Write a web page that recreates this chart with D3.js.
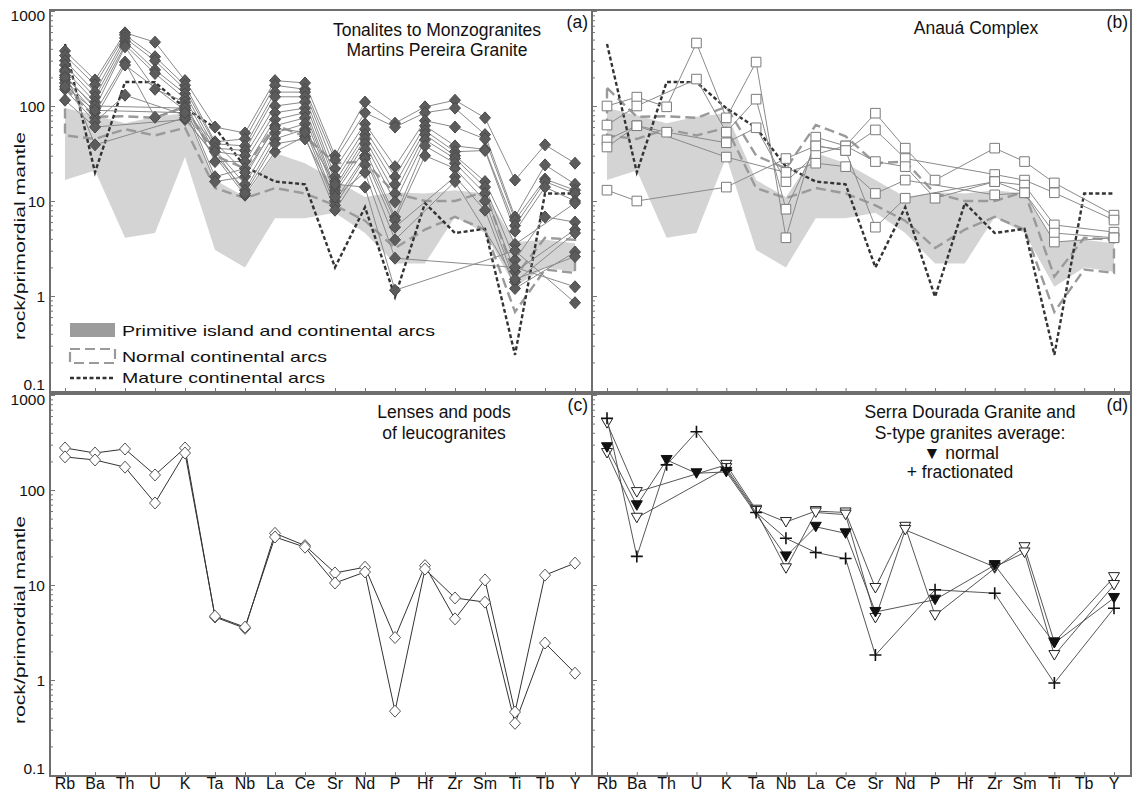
<!DOCTYPE html>
<html>
<head>
<meta charset="utf-8">
<script src="https://cdn.jsdelivr.net/npm/d3@7"></script>
<style>
  body { margin: 0; background: #fff; }
  text { font-family: "Liberation Sans", Arial, sans-serif; fill: #111; }
</style>
</head>
<body>
<svg id="chart" width="1134" height="794"></svg>
<script>
'use strict';

const elements = ["Rb", "Ba", "Th", "U", "K", "Ta", "Nb", "La", "Ce", "Sr", "Nd", "P", "Hf", "Zr", "Sm", "Ti", "Tb", "Y"];
const yTicks = [0.1, 1, 10, 100, 1000];

// reference fields (same in a and b)
const primitiveUpper = [95, 80, 66, 77, 84, 16.6, 11, 32, 25, 16.6, 11, 12.4, 12, 13, 12, 3.7, 3.9, 3.6];
const primitiveLower = [16.6, 21, 4.1, 4.6, 29, 3.05, 2.0, 6.6, 6.6, 7.5, 4.6, 2.2, 2.2, 6.8, 4.6, 1.25, 2.0, 1.8];
const normalUpper = [155, 77, 78, 75, 98, 30, 22, 63, 48, 25, 26, 12, 10, 10, 12.5, 1.6, 4.1, 3.9];
const normalLower = [49, 45, 57, 49, 59, 13.7, 10.7, 13.7, 12, 9, 6.2, 3.2, 5, 6.8, 5, 0.68, 1.9, 1.75];
const matureArcs = [450, 20, 179, 178, 95, 59, 23, 16, 15, 2.0, 8.6, 0.98, 9.5, 4.6, 5.1, 0.24, 12, 12];

// (a) Tonalites to Monzogranites, Martins Pereira Granite
const tonalites = [
  [380, 188, 590, 470, 185, 60, 52, 185, 175, 30, 110, 66, 98, 115, 75, 16.6, 39, 25],
  [340, 167, 560, 330, 165, 42, 45, 165, 150, 27, 85, 60, 85, 95, 50, 6.8, 24, 15],
  [300, 140, 520, 300, 150, 40, 38, 140, 140, 22, 65, 23, 70, 60, 45, 6.3, 17, 13],
  [270, 124, 480, 240, 135, 36, 34, 125, 125, 18, 57, 18, 62, 38, 35, 5.5, 16, 12],
  [240, 110, 440, 220, 120, 33, 30, 100, 110, 16, 50, 15, 55, 33, 34, 4.8, 14, 10],
  [210, 95, 420, 150, 110, 26, 26, 85, 95, 14, 45, 12, 50, 30, 16, 3.5, null, 9.5],
  [190, 85, 290, 76, 100, 18, 22, 72, 85, 13, 40, 9.8, 44, 28, 14, 2.4, 6.8, 6],
  [175, 75, 270, null, 90, 16, 18, 62, 75, 12, 35, 6.8, 38, 25, 12, 1.8, null, 5],
  [150, 68, 130, null, 80, null, 15, 52, 65, 10, 30, 6.3, 30, 22, 10, 1.4, null, 4.6],
  [115, 60, null, null, 72, null, 13, 45, 57, 9, 28, 5.3, null, 18, 8, 1.2, null, 2.9],
  [230, 39, null, null, 75, null, 11.5, 33, 48, 8, 24, 3.9, null, 16, null, 1.5, null, 2.6],
  [200, 100, null, null, 95, null, 12, 40, 45, 11, 20, 2.5, null, null, null, 2.0, null, 1.25],
  [160, 90, null, null, 85, null, 20, 58, 53, 15, 14, 1.15, null, null, null, 3.0, null, 0.85]
];

// (b) Anaua Complex
const anaua = [
  [100, 124, 98, 460, 75, 290, 4.1, 47, 38, 84, 36, 16.6, null, 36, 26, 15.5, null, 7.1],
  [63, 100, null, 192, 53, 118, 8.2, 38, 34, 56, 28, null, null, 19, 16.6, 12.2, null, 6.3],
  [44, 62, 53, null, 41, 59, 16, 31, 38, 26, 23, 10.7, null, 16, 14.7, 5.6, null, 4.7],
  [37, 62, null, null, 29, null, 20, 25, 23, 12, 16.6, null, null, 11.6, 12.2, 4.6, null, 4.1],
  [13, 10, null, null, 14, null, 28, 38, 34, 5.3, 10.7, null, null, 16, 12.2, 3.7, null, 4.1]
];

// (c) Lenses and pods of leucogranites
const leucogranites = [
  [277, 245, 270, 144, 277, 4.6, 3.5, 35, 26, 13.4, 15.4, 2.8, 16, 4.4, 11.3, 0.46, 12.7, 17],
  [223, 207, 174, 73, 245, 4.7, 3.6, 32, 25, 10.5, 13.7, 0.47, 14.7, 7.3, 6.6, 0.35, 2.45, 1.18]
];

// (d) Serra Dourada Granite and S-type averages
const serraDourada = [
  [505, 95, null, null, 184, 62, 46, 60, 58, 9.3, 41, 4.8, null, 15, 25, 2.5, null, 12.1],
  [245, 51, null, null, 170, 60, 15, 58, 55, 4.5, 38, null, null, 15.5, 22, 1.83, null, 10]
];
const sTypeNormal = [282, 69, 207, 150, 155, null, 20, 41, 35, 5.2, null, 7, null, 16.2, null, 2.45, null, 7.3];
const sTypeFractionated = [570, 20, 184, 410, 162, 58, 31, 22, 19, 1.83, null, 8.9, null, 8.2, null, 0.93, null, 5.7];

const svg = d3.select('#chart');

const panels = [
  { id: 'a', x0: 50, x1: 592, top: 10, bottom: 392 },
  { id: 'b', x0: 592, x1: 1131, top: 10, bottom: 392 },
  { id: 'c', x0: 50, x1: 592, top: 394, bottom: 776 },
  { id: 'd', x0: 592, x1: 1131, top: 394, bottom: 776 }
];

panels.forEach(p => {
  p.x = d3.scalePoint().domain(elements).range([p.x0 + 15, p.x1 - 17]);
  p.y = d3.scaleLog().domain([0.1, 1000]).range([p.bottom - 1, p.top + 1]);
  p.g = svg.append('g');
});

const toPoints = vals => vals.map((v, i) => ({ el: elements[i], v: v })).filter(d => d.v != null);

const shapes = {
  diamond: 'M0,-6L5.5,0L0,6L-5.5,0Z',
  square: 'M-4.8,-4.8H4.8V4.8H-4.8Z',
  tri: 'M-5.5,-4.5L5.5,-4.5L0,5Z',
  plus: 'M-6,0H6M0,-6V6'
};

// grey field + dashed field + dotted line
const drawFields = (p) => {
  const area = d3.area()
    .x((d, i) => p.x(elements[i]))
    .y0((d, i) => p.y(primitiveLower[i]))
    .y1(d => p.y(d));
  p.g.append('path')
    .attr('d', area(primitiveUpper))
    .attr('fill', '#d4d4d4');

  const line = d3.line().x(d => p.x(d.el)).y(d => p.y(d.v));
  const ring = toPoints(normalUpper).concat(toPoints(normalLower).reverse());
  p.g.append('path')
    .attr('d', line(ring) + 'Z')
    .attr('fill', 'none')
    .attr('stroke', '#9a9a9a')
    .attr('stroke-width', 2.4)
    .attr('stroke-dasharray', '10,5');

  p.g.append('path')
    .attr('d', line(toPoints(matureArcs)))
    .attr('fill', 'none')
    .attr('stroke', '#333')
    .attr('stroke-width', 2.4)
    .attr('stroke-dasharray', '4,2.5');
}

const drawSeries = (p, list, o) => {
  const line = d3.line().x(d => p.x(d.el)).y(d => p.y(d.v));
  list.forEach(vals => {
    p.g.append('path')
      .attr('d', line(toPoints(vals)))
      .attr('fill', 'none')
      .attr('stroke', o.line)
      .attr('stroke-width', o.lw || 1);
  });
  list.forEach(vals => {
    p.g.selectAll(null)
      .data(toPoints(vals))
      .enter()
      .append('path')
      .attr('d', shapes[o.shape])
      .attr('transform', d => `translate(${p.x(d.el)},${p.y(d.v)})`)
      .attr('fill', o.fill)
      .attr('stroke', o.stroke)
      .attr('stroke-width', o.sw || 1);
  });
}

drawFields(panels[0]);
drawFields(panels[1]);
drawSeries(panels[0], tonalites, { shape: 'diamond', line: '#8a8a8a', fill: '#5c5c5c', stroke: '#4a4a4a' });
drawSeries(panels[1], anaua, { shape: 'square', line: '#8a8a8a', fill: '#fff', stroke: '#7a7a7a' });
drawSeries(panels[2], leucogranites, { shape: 'diamond', line: '#333', fill: '#fff', stroke: '#555' });
drawSeries(panels[3], serraDourada, { shape: 'tri', line: '#444', lw: 0.9, fill: '#fff', stroke: '#222' });
drawSeries(panels[3], [sTypeNormal], { shape: 'tri', line: '#444', lw: 0.9, fill: '#111', stroke: '#111' });
drawSeries(panels[3], [sTypeFractionated], { shape: 'plus', line: '#444', lw: 0.9, fill: 'none', stroke: '#111', sw: 1.6 });

// axes, ticks and frames
const minorTicks = [];
[0.1, 1, 10, 100].forEach(dec => {
  for (let k = 2; k <= 9; k++) minorTicks.push(k * dec);
});

panels.forEach(p => {
  p.g.append('g')
    .attr('transform', `translate(${p.x0},0)`)
    .call(d3.axisRight(p.y).tickValues(minorTicks).tickSize(3).tickFormat(''))
    .call(g => g.select('.domain').remove())
    .call(g => g.selectAll('line').attr('stroke', '#777'));
  p.g.append('g')
    .attr('transform', `translate(${p.x0},0)`)
    .call(d3.axisRight(p.y).tickValues(yTicks).tickSize(5).tickFormat(''))
    .call(g => g.select('.domain').remove())
    .call(g => g.selectAll('line').attr('stroke', '#777'));
  p.g.append('g')
    .attr('transform', `translate(0,${p.bottom})`)
    .call(d3.axisTop(p.x).tickSize(4).tickFormat(''))
    .call(g => g.select('.domain').remove())
    .call(g => g.selectAll('line').attr('stroke', '#777'));
  p.g.append('rect')
    .attr('x', p.x0)
    .attr('y', p.top)
    .attr('width', p.x1 - p.x0)
    .attr('height', p.bottom - p.top)
    .attr('fill', 'none')
    .attr('stroke', '#6e6e6e')
    .attr('stroke-width', 2);
});

// y tick labels + y title on the left panels
[panels[0], panels[2]].forEach(p => {
  p.g.selectAll(null)
    .data(yTicks)
    .enter()
    .append('text')
    .attr('x', p.x0 - 5)
    .attr('y', d => Math.min(p.bottom - 8, Math.max(p.top + 5, p.y(d))))
    .attr('dy', '0.36em')
    .attr('text-anchor', 'end')
    .attr('font-size', 15.5)
    .text(d => d3.format('~g')(d));
  p.g.append('text')
    .attr('transform', `translate(25,${(p.top + p.bottom) / 2 + 35}) rotate(-90)`)
    .attr('text-anchor', 'middle')
    .attr('font-size', 14)
    .attr('textLength', 208)
    .attr('lengthAdjust', 'spacingAndGlyphs')
    .text('rock/primordial mantle');
});

// x labels on the bottom panels
[panels[2], panels[3]].forEach(p => {
  p.g.selectAll(null)
    .data(elements)
    .enter()
    .append('text')
    .attr('x', d => p.x(d))
    .attr('y', 789)
    .attr('text-anchor', 'middle')
    .attr('font-size', 16)
    .text(d => d);
});

// titles
const addText = (x, y, str, anchor, size) => {
  svg.append('text')
    .attr('x', x)
    .attr('y', y)
    .attr('text-anchor', anchor || 'middle')
    .attr('font-size', size || 17.5)
    .text(str);
}
addText(437, 36, 'Tonalites to Monzogranites');
addText(437, 56, 'Martins Pereira Granite');
addText(588, 28, '(a)', 'end');
addText(976, 34, 'Anauá Complex');
addText(1128, 28, '(b)', 'end');
addText(444, 418, 'Lenses and pods');
addText(444, 439, 'of leucogranites');
addText(588, 411, '(c)', 'end');
addText(970, 418, 'Serra Dourada Granite and');
addText(970, 439, 'S-type granites average:');
addText(961, 459, '▼ normal');
addText(960, 478, '+ fractionated');
addText(1128, 411, '(d)', 'end');

// legend in panel a
const lg = svg.append('g');
lg.append('rect')
  .attr('x', 70).attr('y', 323).attr('width', 45).attr('height', 14)
  .attr('fill', '#9c9c9c');
lg.append('rect')
  .attr('x', 70).attr('y', 349).attr('width', 45).attr('height', 14)
  .attr('fill', 'none').attr('stroke', '#9a9a9a').attr('stroke-width', 2.2)
  .attr('stroke-dasharray', '10,5');
lg.append('line')
  .attr('x1', 70).attr('x2', 115).attr('y1', 378).attr('y2', 378)
  .attr('stroke', '#333').attr('stroke-width', 2.4).attr('stroke-dasharray', '4,2.5');
const legendItems = [
  { label: 'Primitive island and continental arcs', y: 336, len: 313 },
  { label: 'Normal continental arcs', y: 362, len: 205 },
  { label: 'Mature continental arcs', y: 383, len: 203 }
];
lg.selectAll(null)
  .data(legendItems)
  .enter()
  .append('text')
  .attr('x', 122)
  .attr('y', d => d.y)
  .attr('font-size', 15)
  .attr('textLength', d => d.len)
  .attr('lengthAdjust', 'spacingAndGlyphs')
  .text(d => d.label);
</script>
</body>
</html>
